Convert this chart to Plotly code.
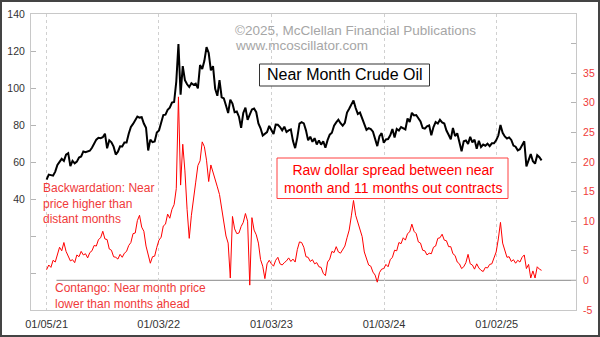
import pandas as pd
import plotly.graph_objects as go

# Weekly (Tuesday) samples, one list per calendar year.
# Near-month crude oil price, $/bbl (left axis)
crude_2021 = [50.5, 53.2, 52.9, 52.6, 54.8, 58.4, 60.1, 61.7, 60.6, 64.0, 64.8, 57.8, 60.6,
              59.3, 60.2, 62.4, 63.0, 65.7, 65.3, 65.5, 66.1, 67.7, 70.1, 72.1, 73.1, 72.9,
              73.4, 75.3, 67.4, 71.7, 70.6, 68.3, 64.0, 65.6, 68.5, 68.4, 70.5, 70.5, 75.3,
              78.9, 80.6, 83.0, 84.6, 84.0, 84.2, 80.8, 78.5, 66.2, 72.1, 70.7, 71.1, 75.9]
crude_2022 = [77.0, 81.2, 85.4, 85.6, 88.2, 89.4, 92.1, 92.4, 103.4, 123.7, 96.4, 111.8, 104.2,
              102.0, 100.6, 102.6, 101.7, 102.4, 99.8, 112.4, 110.3, 114.7, 122.1, 118.9, 109.5,
              111.8, 99.5, 95.8, 104.2, 95.0, 94.4, 90.5, 86.5, 93.7, 91.6, 86.9, 87.3, 84.5,
              78.5, 86.5, 89.4, 82.8, 85.3, 88.4, 88.9, 86.9, 80.9, 78.2, 74.3, 75.4, 76.2, 79.5]
crude_2023 = [76.9, 75.1, 80.2, 80.1, 78.9, 77.1, 79.1, 76.2, 77.1, 77.6, 71.3, 67.5, 73.2,
              80.7, 81.5, 80.9, 77.1, 71.7, 73.7, 70.9, 72.9, 69.5, 71.7, 69.4, 71.2, 67.7,
              71.8, 74.8, 75.8, 79.6, 81.4, 82.9, 81.0, 79.6, 81.2, 86.7, 88.8, 91.2, 93.3,
              89.2, 86.0, 86.7, 83.7, 81.0, 77.4, 78.3, 77.8, 76.4, 72.3, 68.6, 73.9, 75.6]
crude_2024 = [70.4, 72.2, 72.4, 74.4, 77.8, 73.3, 77.9, 77.0, 78.9, 78.2, 77.6, 83.5, 81.6,
              86.6, 85.2, 85.4, 83.4, 81.9, 78.4, 78.0, 79.3, 79.8, 74.5, 78.9, 81.6, 80.8,
              82.8, 81.4, 80.8, 77.0, 74.7, 72.2, 78.4, 74.0, 75.5, 70.3, 65.8, 71.2, 71.6,
              69.8, 73.6, 70.6, 72.1, 67.2, 71.5, 68.1, 69.4, 68.8, 69.9, 68.6, 70.1, 70.1, 71.7]
crude_2025 = [74.3, 80.0, 75.8, 73.8, 72.7, 73.3, 71.9, 68.9, 68.3, 66.3, 66.9, 69.0, 71.2,
              57.6, 61.3, 64.3, 60.4, 59.1, 63.7, 62.6, 60.9]

# Near month minus 11-months-out contract, $ (right axis)
spread_2021 = [1.8, 2.6, 2.2, 3.4, 3.1, 4.6, 5.6, 5.0, 6.4, 4.9, 4.2, 3.3, 3.5, 3.0, 4.3, 4.0,
               4.9, 4.3, 4.5, 3.8, 4.7, 5.0, 5.9, 5.8, 6.9, 7.2, 8.3, 7.0, 6.9, 5.3, 5.1, 4.0,
               3.9, 3.6, 4.4, 3.9, 4.6, 4.9, 5.9, 6.4, 7.9, 8.0, 10.1, 11.0, 9.0, 8.3, 5.8, 4.4,
               2.9, 4.0, 4.1, 5.6]
spread_2022 = [6.8, 7.3, 9.2, 9.5, 11.2, 10.5, 12.0, 12.8, 15.5, 31.0, 16.1, 23.0, 18.5, 12.0,
               7.1, 11.0, 14.3, 16.6, 19.4, 20.2, 23.4, 22.6, 20.3, 16.7, 19.5, 18.4, 17.3, 15.8,
               14.5, 12.2, 9.8, 7.5, 6.3, 0.4, 10.8, 8.7, 7.9, 8.0, 9.1, 9.8, 11.3, 10.0, -0.8,
               10.6, 8.5, 7.7, 6.3, 3.5, 2.4, 0.3, 2.8, 3.4]
spread_2023 = [2.8, 2.4, 3.4, 3.9, 2.8, 2.6, 3.0, 3.3, 3.8, 3.2, 3.6, 3.1, 5.2, 6.5, 6.4, 5.6,
               4.0, 3.9, 3.2, 3.5, 2.8, 3.0, 2.3, 2.2, 1.2, 0.8, 3.1, 3.6, 4.9, 4.7, 5.7, 4.8,
               4.6, 5.3, 5.8, 7.2, 8.5, 10.9, 13.5, 11.0, 9.7, 8.5, 7.4, 4.8, 3.5, 2.6, 2.4, 1.4,
               0.9, -0.3, 1.3, 1.9]
spread_2024 = [2.0, 2.7, 2.3, 3.5, 3.9, 5.1, 5.0, 6.4, 6.2, 7.2, 6.8, 7.9, 8.2, 9.5, 8.3, 7.9,
               6.5, 6.3, 5.1, 5.0, 4.3, 4.6, 4.5, 5.6, 5.8, 7.1, 7.2, 7.8, 6.8, 6.7, 5.7, 5.7,
               4.5, 4.2, 3.1, 2.8, 2.0, 2.3, 3.0, 4.4, 2.8, 2.6, 1.9, 2.8, 2.1, 1.7, 1.5, 2.2,
               2.1, 2.7, 2.8, 3.9, 4.8]
spread_2025 = [7.0, 9.8, 6.3, 5.2, 3.9, 4.0, 3.2, 3.5, 2.9, 3.4, 3.1, 3.9, 4.3, 2.0, 2.7, 0.4,
               1.6, 0.4, 2.3, 1.9, 1.7]

# First Tuesday sampled in each year
year_starts = ["2021-01-05", "2022-01-04", "2023-01-03", "2024-01-02", "2025-01-07"]

tick_dates = ["2021-01-05", "2022-01-03", "2023-01-03", "2024-01-03", "2025-01-02"]
tick_labels = ["01/05/21", "01/03/22", "01/03/23", "01/03/24", "01/02/25"]

left_ticks = [0, 20, 40, 60, 80, 100, 120, 140]
left_labels = ["", "", "40", "60", "80", "100", "120", "140"]
right_ticks = [-5, 0, 5, 10, 15, 20, 25, 30, 35, 40]
right_labels = ["-5", "0", "5", "10", "15", "20", "25", "30", "35", ""]


def stitch(starts, yearly):
    dates, vals = [], []
    for s, v in zip(starts, yearly):
        dates.extend(pd.date_range(s, periods=len(v), freq="7D"))
        vals.extend(v)
    return dates, vals


crude_x, crude_y = stitch(year_starts, [crude_2021, crude_2022, crude_2023, crude_2024, crude_2025])
spread_x, spread_y = stitch(year_starts, [spread_2021, spread_2022, spread_2023, spread_2024, spread_2025])

W, H = 600, 337
L, R, T, B = 31, 24, 14, 27
PW, PH = W - L - R, H - T - B


def px(x):
    return (x - L) / PW


def py(y):
    return (H - B - y) / PH


FONT = "Liberation Sans, Arial, sans-serif"
RED = "#ff0000"
RED_TXT = "#f03a3a"

fig = go.Figure()
fig.add_trace(go.Scatter(x=spread_x, y=spread_y, yaxis="y2", mode="lines",
                         line=dict(color=RED, width=1), hoverinfo="skip"))
fig.add_trace(go.Scatter(x=crude_x, y=crude_y, yaxis="y", mode="lines",
                         line=dict(color="#000000", width=2), hoverinfo="skip"))

fig.update_layout(
    width=W, height=H,
    margin=dict(l=L, r=R, t=T, b=B),
    template="none",
    paper_bgcolor="white", plot_bgcolor="white",
    showlegend=False,
    font=dict(family=FONT, size=11, color="#333333"),
    xaxis=dict(
        type="date", range=["2020-11-15 12:00", "2025-09-15 14:00"],
        tickvals=tick_dates, ticktext=tick_labels, ticks="",
        tickfont=dict(size=11, color="#333333"),
        showgrid=True, gridcolor="#d0d0d0", griddash="dot", gridwidth=1,
        showline=True, linecolor="#c8c8c8", linewidth=1, mirror=True,
        zeroline=False, automargin=False, ticklabelstandoff=4,
    ),
    yaxis=dict(
        range=[-20, 140], tickvals=left_ticks, ticktext=left_labels,
        ticks="inside", ticklen=5, tickcolor="#b4b4b4",
        tickfont=dict(size=10.5, color="#333333"),
        showgrid=False, zeroline=False,
        showline=True, linecolor="#c8c8c8", linewidth=1,
        automargin=False, ticklabelstandoff=3,
    ),
    yaxis2=dict(
        range=[-5, 45], overlaying="y", side="right",
        tickvals=right_ticks, ticktext=right_labels,
        ticks="inside", ticklen=5, tickcolor="#b4b4b4",
        tickfont=dict(size=10.5, color=RED_TXT),
        showgrid=False, zeroline=False,
        showline=True, linecolor="#c8c8c8", linewidth=1,
        automargin=False, ticklabelstandoff=4,
    ),
)

shapes = [
    # spread zero reference
    dict(type="line", xref="x", yref="y2", x0="2021-02-06", x1="2025-09-15 14:00", y0=0, y1=0,
         line=dict(color="#a0a0a0", width=1.3), layer="below"),
    # title box
    dict(type="rect", xref="paper", yref="paper", x0=px(259.5), x1=px(429.5), y0=py(86), y1=py(64),
         line=dict(color="#333333", width=1), fillcolor="white", layer="above"),
    # spread caption box
    dict(type="rect", xref="paper", yref="paper", x0=px(277), x1=px(508), y0=py(198.5), y1=py(158),
         line=dict(color="#ff4040", width=1), fillcolor="white", layer="above"),
    # outer frame
    dict(type="rect", xref="paper", yref="paper", x0=px(1), x1=px(599), y0=py(336), y1=py(1),
         line=dict(color="#444444", width=2), fillcolor="rgba(0,0,0,0)", layer="above"),
]
fig.update_layout(shapes=shapes)

ann = [
    dict(x=px(233), y=py(30), text="©2025, McClellan Financial Publications",
         font=dict(size=13.5, color="#a6a6a6")),
    dict(x=px(233), y=py(45.5), text="www.mcoscillator.com",
         font=dict(size=13.5, color="#a6a6a6")),
    dict(x=px(344.5), y=py(75), text="Near Month Crude Oil", xanchor="center",
         font=dict(size=16, color="#000000")),
    dict(x=px(392.5), y=py(179), text="Raw dollar spread between near<br>month and 11 months out contracts",
         xanchor="center", font=dict(size=14, color=RED)),
    dict(x=px(40.5), y=py(203.3), text="Backwardation: Near<br>price higher than<br>distant months",
         align="left", font=dict(size=12, color=RED_TXT)),
    dict(x=px(53), y=py(296), text="Contango: Near month price<br>lower than months ahead",
         align="left", font=dict(size=12, color=RED_TXT)),
]
for a in ann:
    base = dict(xref="paper", yref="paper", showarrow=False, xanchor="left", yanchor="middle",
                align="center")
    base.update(a)
    base["font"] = dict(family=FONT, **a["font"])
    fig.add_annotation(**base)

fig.write_html("out.html")
